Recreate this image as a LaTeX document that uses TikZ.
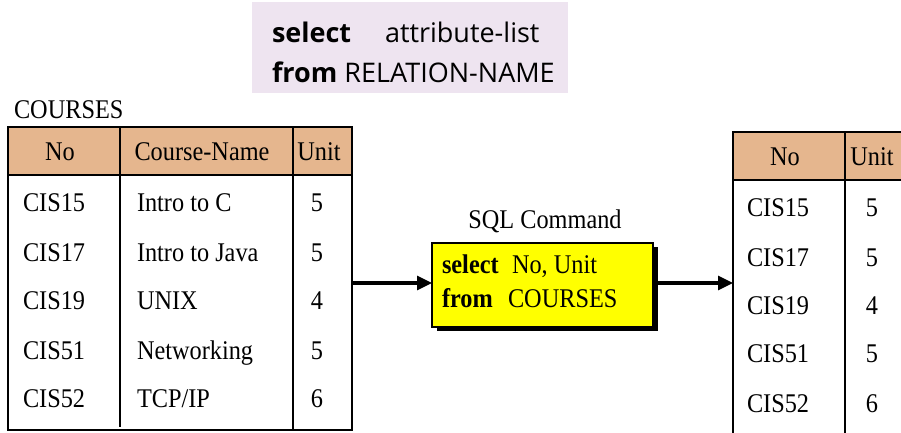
\documentclass[tikz,border=0pt]{standalone}
\usepackage{fontspec}
\setmainfont{Liberation Serif}
\newfontfamily\serifcond[FakeStretch=0.9]{Liberation Serif}
\newfontfamily\syntaxfont{Open Sans}
\usetikzlibrary{arrows.meta,shadows}
\definecolor{headtan}{RGB}{229,182,142}
\definecolor{syntaxbg}{RGB}{238,228,240}
\definecolor{cmdyellow}{RGB}{255,255,0}

\begin{document}
\begin{tikzpicture}[x=1pt,y=-1pt,
  every node/.style={inner sep=0pt,outer sep=0pt},
  tabtext/.style={font=\serifcond\fontsize{27}{30}\selectfont,anchor=base},
  tableft/.style={tabtext,anchor=base west},
  tableframe/.style={draw,line width=2.8pt,anchor=north west},
  headrow/.style={draw,line width=2.8pt,fill=headtan,anchor=north west},
  grid/.style={line width=2.8pt},
  syntaxline/.style={font=\syntaxfont\fontsize{27}{30}\selectfont,anchor=base west},
  cmdbox/.style={draw,line width=1.8pt,fill=cmdyellow,anchor=north west,
    drop shadow={shadow xshift=5pt,shadow yshift=-4pt,fill=black,opacity=1}},
  flow/.style={line width=3.2pt,-{Triangle[length=15pt,width=14pt]}}
]
\useasboundingbox (0,0) rectangle (901,432);
\clip (0,0) rectangle (901,432);

% general syntax of the statement
\node[fill=syntaxbg,anchor=north west,minimum width=316pt,minimum height=91pt] (syntax) at (252,2) {};
\node[syntaxline] (syn1) at (272,42) {\makebox[113pt][l]{\bfseries select}attribute-list};
\node[syntaxline] (syn2) at (272,82) {\textbf{from} RELATION-NAME};

% source relation COURSES
\node[tableft] (coursesname) at (14,118) {COURSES};
\node[headrow,minimum width=344pt,minimum height=48pt] (courseshead) at (8,127) {};
\node[tableframe,minimum width=344pt,minimum height=303pt] (courses) at (8,127) {};
\draw[grid] (courses.north west) ++(112,0) -- ++(0,300);
\draw[grid] (courses.north west) ++(285,0) -- ++(0,303);

\node[tabtext] (hno) at (60,160) {No};
\node[tabtext] (hname) at (202,160) {Course-Name};
\node[tabtext] (hunit) at (319,160) {Unit};

\node[tableft] (c1no) at (23,211) {CIS15};
\node[tableft] (c2no) at (23,261) {CIS17};
\node[tableft] (c3no) at (23,309) {CIS19};
\node[tableft] (c4no) at (23,359) {CIS51};
\node[tableft] (c5no) at (23,407) {CIS52};
\node[tableft] (c1nm) at (137,211) {Intro to C};
\node[tableft] (c2nm) at (137,261) {Intro to Java};
\node[tableft] (c3nm) at (137,309) {UNIX};
\node[tableft] (c4nm) at (137,359) {Networking};
\node[tableft] (c5nm) at (137,407) {TCP/IP};
\node[tabtext] (c1u) at (317,211) {5};
\node[tabtext] (c2u) at (317,261) {5};
\node[tabtext] (c3u) at (317,309) {4};
\node[tabtext] (c4u) at (317,359) {5};
\node[tabtext] (c5u) at (317,407) {6};

% the SQL command
\node[tabtext] (cmdlabel) at (545,228) {SQL Command};
\node[cmdbox,minimum width=221pt,minimum height=84pt] (cmd) at (432,243) {};
\node[tableft] (cmd1) at (442,273) {\makebox[70pt][l]{\bfseries select}No, Unit};
\node[tableft] (cmd2) at (442,307) {\makebox[66pt][l]{\bfseries from}COURSES};

% resulting relation
\node[headrow,minimum width=190pt,minimum height=48pt] (resulthead) at (733,132) {};
\node[tableframe,minimum width=190pt,minimum height=320pt] (result) at (733,132) {};
\draw[grid] (result.north west) ++(112,0) -- ++(0,320);

\node[tabtext] (rhno) at (785,165) {No};
\node[tabtext] (rhunit) at (872,165) {Unit};
\node[tableft] (r1no) at (747,216) {CIS15};
\node[tableft] (r2no) at (747,266) {CIS17};
\node[tableft] (r3no) at (747,314) {CIS19};
\node[tableft] (r4no) at (747,362) {CIS51};
\node[tableft] (r5no) at (747,412) {CIS52};
\node[tabtext] (r1u) at (872,216) {5};
\node[tabtext] (r2u) at (872,266) {5};
\node[tabtext] (r3u) at (872,314) {4};
\node[tabtext] (r4u) at (872,362) {5};
\node[tabtext] (r5u) at (872,412) {6};

% data flow
\coordinate (flowin) at ([yshift=2pt]cmd.west);
\coordinate (flowout) at ([xshift=5pt,yshift=2pt]cmd.east);
\draw[flow] (courses.east |- flowin) -- (flowin);
\draw[flow] (flowout) -- (result.west |- flowout);
\end{tikzpicture}
\end{document}
